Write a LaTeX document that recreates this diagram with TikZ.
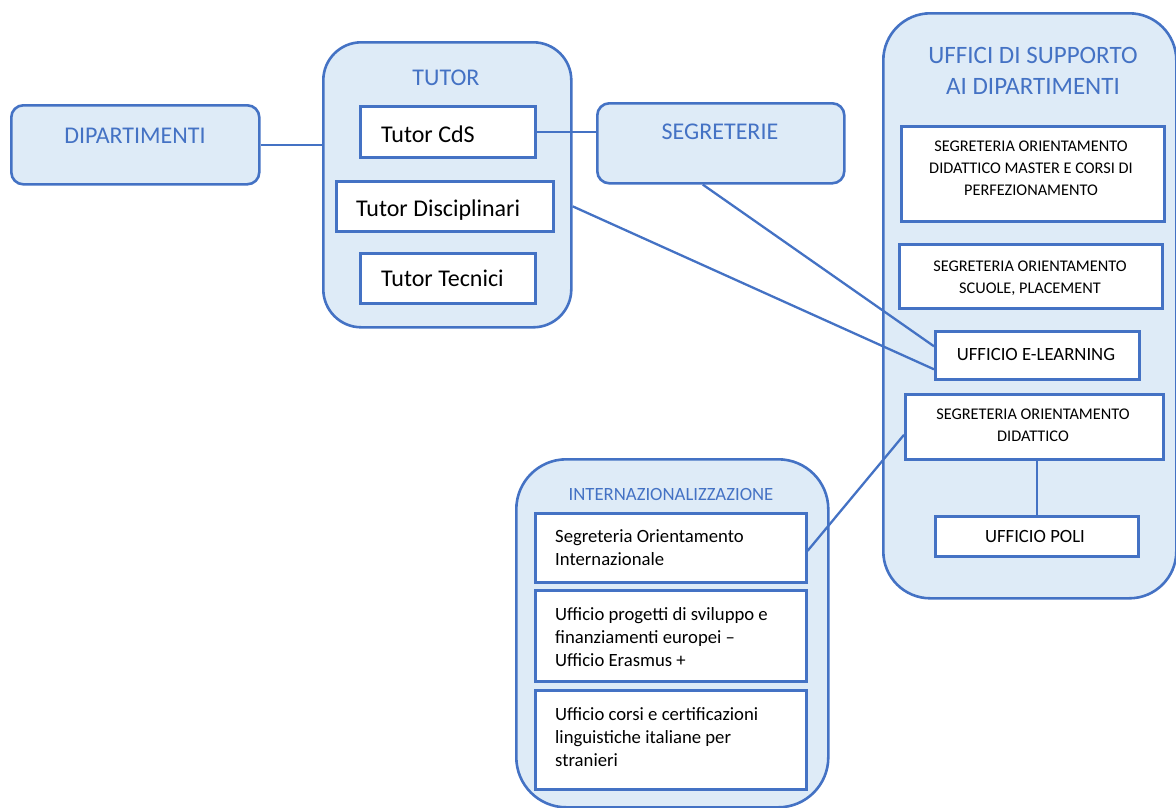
\documentclass[tikz,border=0pt]{standalone}
\usepackage{fontspec}
\setmainfont{Carlito}
\usetikzlibrary{calc}
\definecolor{bord}{HTML}{4472C4}
\definecolor{fillb}{HTML}{DEEBF7}
\begin{document}
\begin{tikzpicture}[x=1pt,y=-1pt,
  cont/.style={draw=bord, fill=fillb, line width=2.6pt, rounded corners=#1, anchor=north west, inner sep=0pt},
  wbox/.style={draw=bord, fill=white, line width=2.6pt, anchor=north west, inner sep=0pt},
  conn/.style={draw=bord, line width=2.3pt},
  ttl/.style={text=bord, anchor=base, inner sep=0pt},
  big/.style={font=\fontsize{24}{29}\selectfont},
  huge/.style={font=\fontsize{25}{31}\selectfont},
  med/.style={font=\fontsize{18.7}{23}\selectfont},
  sml/.style={font=\fontsize{16.3}{22}\selectfont},
  blk/.style={text=black, inner sep=0pt}
]
\useasboundingbox (0,0) rectangle (1176,807);

% containers
\node[cont=12, minimum width=248pt, minimum height=79pt] (dip) at (10,104) {};
\node[cont=38, minimum width=248pt, minimum height=285pt] (tutor) at (322,41) {};
\node[cont=12, minimum width=247pt, minimum height=80pt] (seg) at (596,102) {};
\node[cont=47, minimum width=293pt, minimum height=585pt] (uff) at (882,12) {};
\node[cont=50, minimum width=312pt, minimum height=348pt] (intl) at (515,458) {};

% titles
\node[ttl, big] (tdip) at (135,143) {DIPARTIMENTI};
\node[ttl, big] (ttut) at (446,85) {TUTOR};
\node[ttl, big] (tseg) at (720,139) {SEGRETERIE};
\node[ttl, huge] (tuff1) at (1033,63) {UFFICI DI SUPPORTO};
\node[ttl, huge] (tuff2) at (1033,94) {AI DIPARTIMENTI};
\node[ttl, med] (tint) at (671,500) {INTERNAZIONALIZZAZIONE};

% white boxes
\node[wbox, minimum width=175pt, minimum height=51pt] (cds) at (359,105) {};
\node[wbox, minimum width=217pt, minimum height=50pt] (tdisc) at (335,180) {};
\node[wbox, minimum width=175pt, minimum height=50pt] (ttec) at (359,252) {};
\node[wbox, minimum width=263pt, minimum height=95pt] (sodm) at (900,125) {};
\node[wbox, minimum width=263pt, minimum height=64pt] (sos) at (898,243) {};
\node[wbox, minimum width=204pt, minimum height=48pt] (elearn) at (934,330) {};
\node[wbox, minimum width=258pt, minimum height=65pt] (sod) at (904,393) {};
\node[wbox, minimum width=203pt, minimum height=40pt] (poli) at (934,515) {};
\node[wbox, minimum width=271pt, minimum height=69pt] (soi) at (534,512) {};
\node[wbox, minimum width=271pt, minimum height=91pt] (prog) at (534,589) {};
\node[wbox, minimum width=271pt, minimum height=99pt] (corsi) at (534,689) {};

% texts
\node[blk, big, anchor=base west] (xcds) at (381,142) {Tutor CdS};
\node[blk, big, anchor=base west] (xdisc) at (356,216) {Tutor Disciplinari};
\node[blk, big, anchor=base west] (xtec) at (381,286) {Tutor Tecnici};
\node[blk, sml, anchor=north, align=center] (xsodm) at (1031,141) {SEGRETERIA ORIENTAMENTO\\DIDATTICO MASTER E CORSI DI\\PERFEZIONAMENTO};
\node[blk, sml, anchor=north, align=center] (xsos) at (1030,261) {SEGRETERIA ORIENTAMENTO\\SCUOLE, PLACEMENT};
\node[blk, med, anchor=base] (xel) at (1036,360) {UFFICIO E-LEARNING};
\node[blk, sml, anchor=north, align=center] (xsod) at (1033,409) {SEGRETERIA ORIENTAMENTO\\DIDATTICO};
\node[blk, med, anchor=base] (xpoli) at (1035,542) {UFFICIO POLI};
\node[blk, med, anchor=north west, align=left] (xsoi) at (555,529) {Segreteria Orientamento\\Internazionale};
\node[blk, med, anchor=north west, align=left] (xprog) at (555,607) {Ufficio progetti di sviluppo e\\finanziamenti europei –\\Ufficio Erasmus +};
\node[blk, med, anchor=north west, align=left] (xcorsi) at (555,707) {Ufficio corsi e certificazioni\\linguistiche italiane per\\stranieri};

% connectors
\draw[conn] (dip.east) -- (dip.east -| tutor.west);
\draw[conn] (cds.east) -- (cds.east -| seg.west);
\draw[conn] ([xshift=-18pt]seg.south) -- ([yshift=9pt]elearn.west);
\draw[conn] (tdisc.east -| tutor.east) -- ([yshift=-14pt]elearn.west);
\draw[conn] ([yshift=-3pt]soi.east) -- ([yshift=-8pt]sod.west);
\draw[conn] (poli.north |- sod.south) -- (poli.north);
\end{tikzpicture}
\end{document}
